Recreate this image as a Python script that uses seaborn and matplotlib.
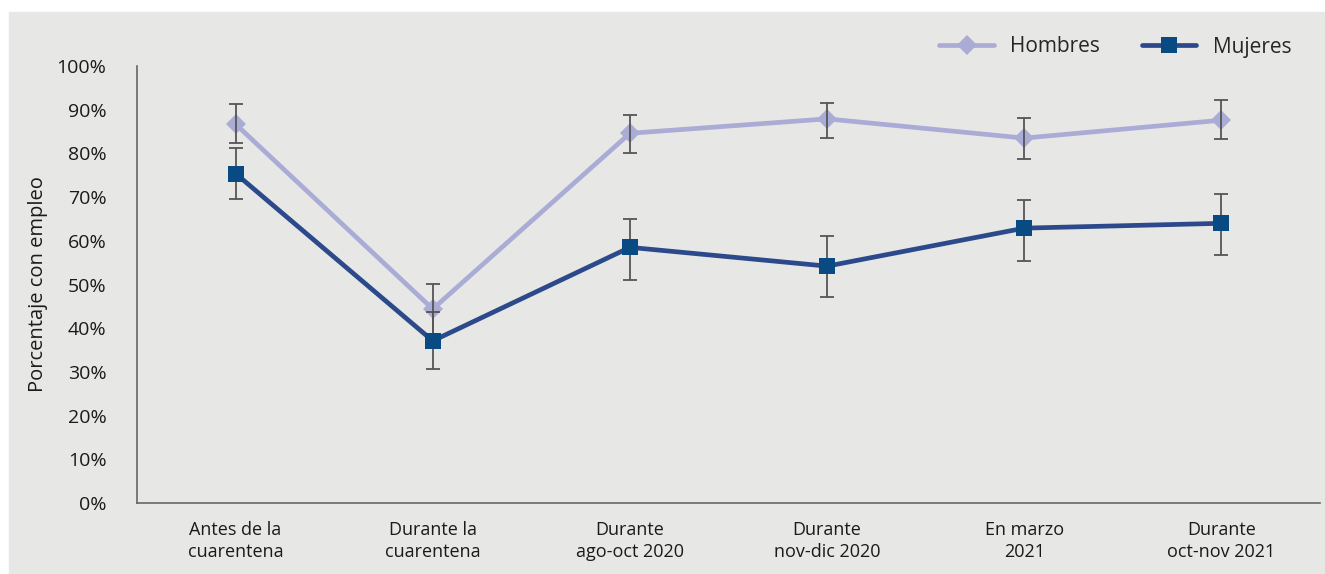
import pandas as pd
import numpy as np
import matplotlib.pyplot as plt
import matplotlib.patches as mpatches
import seaborn as sns

# periodos y valores (porcentaje con empleo)
periodos = ['Antes de la\ncuarentena', 'Durante la\ncuarentena', 'Durante\nago-oct 2020',
            'Durante\nnov-dic 2020', 'En marzo\n2021', 'Durante\noct-nov 2021']
hombres = [86.7, 44.4, 84.6, 87.9, 83.5, 87.6]
hombres_bajo = [82.4, 38.6, 80.0, 83.5, 78.7, 83.4]
hombres_alto = [91.2, 50.2, 88.8, 91.6, 88.0, 92.2]
mujeres = [75.4, 37.1, 58.5, 54.2, 62.9, 64.0]
mujeres_bajo = [69.6, 30.6, 51.0, 47.2, 55.4, 56.8]
mujeres_alto = [81.3, 43.6, 64.9, 61.2, 69.3, 70.7]

bg = '#e7e8e6'
col_h = '#abacd6'
col_m = '#2c4a8b'
col_m_marker = '#0a4a82'

sns.set_style("white", {'axes.facecolor': bg})
plt.rcParams['font.family'] = ['Open Sans', 'DejaVu Sans']

fig = plt.figure(figsize=(13.25, 5.74), dpi=100, facecolor='white')
# fondo gris del panel (deja un borde blanco arriba y a la izquierda)
fig.patches.append(mpatches.Rectangle((9 / 1325, 0), 1 - 9 / 1325, 1 - 12 / 574,
                                      transform=fig.transFigure, color=bg, zorder=-10))
ax = fig.add_axes([137 / 1325, 71 / 574, (1320 - 137) / 1325, (503 - 66) / 574])
ax.set_facecolor(bg)

pos = np.arange(len(periodos))
df = pd.DataFrame({'pos': np.concatenate([pos, pos]),
                   'valor': hombres + mujeres,
                   'sexo': ['Hombres'] * len(pos) + ['Mujeres'] * len(pos)})

sns.lineplot(data=df[df['sexo'] == 'Hombres'], x='pos', y='valor', color=col_h, lw=3.4,
             marker='D', markersize=10, markeredgewidth=0, label='Hombres', ax=ax, zorder=2)
ax.errorbar(pos, hombres, yerr=[np.array(hombres) - np.array(hombres_bajo),
                                np.array(hombres_alto) - np.array(hombres)],
            fmt='none', ecolor='#555555', elinewidth=1.3, capsize=5, capthick=1.3, zorder=3)
sns.lineplot(data=df[df['sexo'] == 'Mujeres'], x='pos', y='valor', color=col_m, lw=3.4,
             marker='s', markersize=12, markerfacecolor=col_m_marker, markeredgewidth=0,
             label='Mujeres', ax=ax, zorder=4)
ax.errorbar(pos, mujeres, yerr=[np.array(mujeres) - np.array(mujeres_bajo),
                                np.array(mujeres_alto) - np.array(mujeres)],
            fmt='none', ecolor='#555555', elinewidth=1.3, capsize=5, capthick=1.3, zorder=3.5)

ax.set_xlim(-0.5, len(periodos) - 0.5)
ax.set_ylim(0, 100)
ax.set_xticks(pos)
ax.set_xticklabels(periodos, fontsize=13, color='#1a1a1a', linespacing=1.3)
ax.set_yticks(np.arange(0, 101, 10))
ax.set_yticklabels([f'{v}%' for v in range(0, 101, 10)], fontsize=14, color='#1a1a1a')
ax.tick_params(axis='both', length=0)
ax.tick_params(axis='x', pad=13)
ax.tick_params(axis='y', pad=22)
ax.set_xlabel('')
ax.set_ylabel('Porcentaje con empleo', fontsize=14.5, color='#1a1a1a', labelpad=6)

sns.despine(ax=ax)
for s in ['left', 'bottom']:
    ax.spines[s].set_color('#666666')
    ax.spines[s].set_linewidth(1.2)

ax.legend(loc='center right', bbox_to_anchor=(1310 / 1325, 1 - 47 / 574),
          bbox_transform=fig.transFigure, ncol=2, frameon=False, fontsize=15,
          handlelength=2.6, columnspacing=2.0, handletextpad=0.8)

plt.savefig('out.png', dpi=100, facecolor='white')
